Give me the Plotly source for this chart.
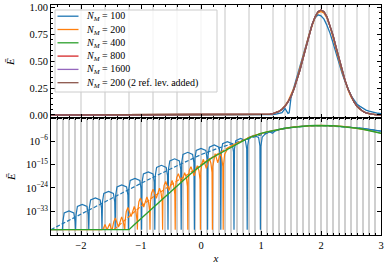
import plotly.graph_objects as go

# ---------------- data ----------------
# top panel (linear scale)
top_x = [-2.5, 1.00, 1.05, 1.10, 1.15, 1.20, 1.25, 1.30, 1.35, 1.40, 1.45, 1.47, 1.50, 1.55, 1.60,
         1.65, 1.70, 1.75, 1.80, 1.85, 1.90, 1.95, 2.00, 2.05, 2.10, 2.15, 2.20, 2.25,
         2.30, 2.35, 2.40, 2.45, 2.50, 2.55, 2.60, 2.65, 2.70, 2.75, 2.80, 2.85, 2.90,
         2.95, 3.00]
top_n100 = [0.0, 0.0, 0.0, 0.001, 0.002, 0.004, 0.008, 0.014, 0.022, 0.06, 0.015, 0.02, 0.16, 0.26, 0.36,
            0.46, 0.56, 0.66, 0.76, 0.84, 0.90, 0.93, 0.92, 0.89, 0.83, 0.76, 0.67, 0.57,
            0.48, 0.39, 0.31, 0.24, 0.18, 0.14, 0.10, 0.08, 0.06, 0.045, 0.035, 0.027, 0.02,
            0.016, 0.013]
top_n200 = [0.0, 0.001, 0.002, 0.004, 0.007, 0.012, 0.021, 0.035, 0.056, 0.086, 0.128, 0.15, 0.182, 0.252, 0.336,
            0.432, 0.536, 0.642, 0.745, 0.835, 0.905, 0.948, 0.962, 0.945, 0.898, 0.822, 0.726, 0.618,
            0.510, 0.405, 0.313, 0.233, 0.167, 0.116, 0.078, 0.051, 0.032, 0.019, 0.011, 0.006, 0.004,
            0.002, 0.001]
top_conv = [0.0, 0.001, 0.002, 0.004, 0.007, 0.012, 0.020, 0.033, 0.053, 0.081, 0.121, 0.14, 0.173, 0.241, 0.323,
            0.418, 0.524, 0.633, 0.740, 0.835, 0.910, 0.958, 0.975, 0.958, 0.910, 0.835, 0.740, 0.633,
            0.524, 0.418, 0.323, 0.241, 0.173, 0.121, 0.081, 0.053, 0.033, 0.020, 0.012, 0.007, 0.004,
            0.002, 0.001]

# bottom panel (log10 of E)
n100_x = [-2.5, -2.31,
          -2.302, -2.28, -2.20, -2.12, -2.098, -2.09,
          -2.082, -2.06, -1.98, -1.90, -1.878, -1.87,
          -1.862, -1.84, -1.76, -1.68, -1.658, -1.65,
          -1.642, -1.62, -1.54, -1.46, -1.438, -1.43,
          -1.422, -1.40, -1.32, -1.24, -1.218, -1.21,
          -1.202, -1.18, -1.10, -1.02, -0.998, -0.99,
          -0.982, -0.96, -0.88, -0.80, -0.778, -0.77,
          -0.762, -0.74, -0.66, -0.58, -0.558, -0.55,
          -0.542, -0.52, -0.44, -0.36, -0.338, -0.33,
          -0.322, -0.30, -0.22, -0.14, -0.118, -0.11,
          -0.102, -0.08, 0.00, 0.08, 0.102, 0.11,
          0.118, 0.14, 0.22, 0.30, 0.322, 0.33,
          0.338, 0.36, 0.44, 0.52, 0.542, 0.55,
          0.558, 0.58, 0.66, 0.74, 0.762, 0.77,
          0.778, 0.80, 0.88, 0.96, 0.982, 0.99,
          0.998, 1.02, 1.06, 1.10, 1.15, 1.19, 1.23, 1.30, 1.40, 1.50, 1.60, 1.70, 1.80,
          1.90, 2.00, 2.10, 2.20, 2.30, 2.40, 2.50, 2.60, 2.70, 2.80, 2.90, 3.00]
n100_lg = [-40, -40,
           -36.8, -33.6, -32.8, -33.6, -36.8, -40,
           -34.3, -31.1, -30.3, -31.1, -34.3, -40,
           -31.8, -28.6, -27.8, -28.6, -31.8, -40,
           -29.3, -26.1, -25.3, -26.1, -29.3, -40,
           -26.8, -23.6, -22.8, -23.6, -26.8, -40,
           -24.3, -21.1, -20.3, -21.1, -24.3, -40,
           -21.8, -18.6, -17.8, -18.6, -21.8, -40,
           -19.3, -16.1, -15.3, -16.1, -19.3, -40,
           -16.8, -13.6, -12.8, -13.6, -16.8, -40,
           -14.3, -11.1, -10.3, -11.1, -14.3, -40,
           -12.8, -9.6, -8.8, -9.6, -12.8, -40,
           -11.5, -8.3, -7.5, -8.3, -11.5, -40,
           -10.2, -7.0, -6.2, -7.0, -10.2, -40,
           -9.0, -5.8, -5.0, -5.8, -9.0, -40,
           -7.8, -4.6, -3.8, -4.6, -7.8, -40,
           -8.0, -4.5, -3.5, -2.9, -2.5, -3.0, -2.2, -1.5, -1.05, -0.72, -0.45, -0.25, -0.10,
           -0.04, -0.05, -0.10, -0.20, -0.32, -0.50, -0.70, -0.90, -1.15, -1.45, -1.80, -2.20]

n100_ref_x = [-2.5, -2.0, -1.5, -1.0, -0.5, -0.2, 0.0, 0.3, 0.6, 0.9, 1.2, 1.5, 1.8, 2.0, 2.2, 2.5, 2.8, 3.0]
n100_ref_lg = [-40, -34, -28, -22.2, -16.6, -13.2, -11.2, -8.6, -6.4, -4.2, -2.2, -0.8, -0.15, -0.05, -0.2, -0.7, -1.45, -2.2]

n200_x = [-2.5, -1.65,
          -1.625, -1.60, -1.565, -1.52, -1.50, -1.48,
          -1.455, -1.428, -1.375, -1.322, -1.295, -1.27,
          -1.264, -1.245, -1.218, -1.165, -1.112, -1.085, -1.066, -1.06,
          -1.054, -1.035, -1.008, -0.955, -0.902, -0.875, -0.856, -0.85,
          -0.844, -0.825, -0.798, -0.745, -0.692, -0.665, -0.646, -0.64,
          -0.634, -0.615, -0.588, -0.535, -0.482, -0.455, -0.436, -0.43,
          -0.424, -0.405, -0.378, -0.325, -0.272, -0.245, -0.226, -0.22,
          -0.214, -0.195, -0.168, -0.115, -0.062, -0.035, -0.016, -0.01,
          -0.004, 0.015, 0.04, 0.09, 0.14, 0.165, 0.184, 0.19,
          0.196, 0.215, 0.235, 0.28, 0.325, 0.345, 0.364, 0.37,
          0.376, 0.395, 0.45, 0.50, 0.60, 0.70, 0.80, 0.90, 1.00, 1.10, 1.20, 1.30, 1.40, 1.50,
          1.60, 1.70, 1.80, 1.90, 2.00, 2.10, 2.20, 2.30, 2.40, 2.50, 2.60, 2.70, 2.80, 2.90, 3.00]
n200_lg = [-40, -40,
           -39.5, -38, -40, -37.6, -39.5, -40,
           -37, -35.5, -39, -35.1, -37, -40,
           -36.5, -33, -31.5, -35, -31.1, -33, -36.5, -40,
           -32.8, -29.3, -27.8, -31.3, -27.4, -29.3, -32.8, -40,
           -29.5, -26, -24.5, -28, -24.1, -26, -29.5, -40,
           -26.5, -23, -21.5, -25, -21.1, -23, -26.5, -40,
           -23.5, -20, -18.5, -22, -18.1, -20, -23.5, -40,
           -20.8, -17.3, -15.8, -19.3, -15.4, -17.3, -20.8, -40,
           -18, -14.5, -13, -16.5, -12.6, -14.5, -18, -40,
           -15.8, -12.3, -10.8, -14.3, -10.4, -12.3, -15.8, -40,
           -15, -11, -8.6, -7.9, -6.7, -5.6, -4.6, -3.8, -3.05, -2.45, -1.92, -1.47, -1.08, -0.75,
           -0.48, -0.27, -0.12, -0.03, 0.0, -0.03, -0.12, -0.27, -0.48, -0.75, -1.08, -1.47, -1.92, -2.43, -3.0]

n200_ref_x = [-1.45, -1.2, -1.0, -0.8, -0.6, -0.4, -0.2, 0.0, 0.2, 0.4, 0.6, 0.8, 1.0]
n200_ref_lg = [-40, -35, -31, -27.5, -24.3, -21.3, -18.5, -15.0, -12.0, -9.2, -6.8, -4.6, -3.05]

n400_x = [-2.5, -1.2, -1.1, -1.0, -0.9, -0.8, -0.7, -0.6, -0.5, -0.4, -0.3, -0.2, -0.1, 0.0,
          0.1, 0.2, 0.3, 0.4, 0.5, 0.6, 0.7, 0.8, 0.9, 1.0, 1.1, 1.2, 1.3, 1.4, 1.5, 1.6,
          1.7, 1.8, 1.9, 2.0, 2.1, 2.2, 2.3, 2.4, 2.5, 2.6, 2.7, 2.8, 2.9, 3.0]
n400_lg = [-40, -40, -37.8, -35.7, -33.6, -31.5, -29.4, -27.3, -25.2, -23.1, -21.1, -19.1, -17.2, -15.4,
           -13.7, -12.2, -10.9, -9.8, -8.4, -7.1, -5.9, -4.8, -3.85, -3.05, -2.45, -1.92, -1.47, -1.08, -0.75, -0.48,
           -0.27, -0.12, -0.03, 0.0, -0.03, -0.12, -0.27, -0.48, -0.75, -1.08, -1.47, -1.92, -2.43, -3.0]

# mesh lines (top panel)
mesh_top = [-2.0, -1.6, -1.2, -0.8, -0.4, 0.0, 0.4, 0.8, 1.2, 1.4, 1.6, 1.7, 1.8, 1.9, 2.0,
            2.1, 2.2, 2.3, 2.4, 2.6, 2.8]

labels = ["100", "200", "400", "800", "1600", "200 (2 ref. lev. added)"]
colors = ["#1f77b4", "#ff7f0e", "#2ca02c", "#d62728", "#9467bd", "#8c564b"]
top_series = [top_n100, top_n200, top_conv, top_conv, top_conv, top_conv]

FONT = "Liberation Serif"

fig = go.Figure()
for lab, col, ys in zip(labels, colors, top_series):
    fig.add_trace(go.Scatter(x=top_x, y=ys, mode="lines", line=dict(color=col, width=1.3),
                             name="N_M = " + lab, showlegend=False, xaxis="x", yaxis="y"))


def pw(lst):
    return [10.0 ** v for v in lst]


fig.add_trace(go.Scatter(x=n100_x, y=pw(n100_lg), mode="lines", line=dict(color=colors[0], width=1.2),
                         showlegend=False, xaxis="x2", yaxis="y2"))
fig.add_trace(go.Scatter(x=n100_ref_x, y=pw(n100_ref_lg), mode="lines",
                         line=dict(color=colors[0], width=1.2, dash="4px,2px"),
                         showlegend=False, xaxis="x2", yaxis="y2"))
fig.add_trace(go.Scatter(x=n200_x, y=pw(n200_lg), mode="lines", line=dict(color=colors[1], width=1.2),
                         showlegend=False, xaxis="x2", yaxis="y2"))
fig.add_trace(go.Scatter(x=n200_ref_x, y=pw(n200_ref_lg), mode="lines",
                         line=dict(color=colors[1], width=1.2, dash="4px,2px"),
                         showlegend=False, xaxis="x2", yaxis="y2"))
fig.add_trace(go.Scatter(x=n400_x, y=pw(n400_lg), mode="lines", line=dict(color=colors[2], width=1.4),
                         showlegend=False, xaxis="x2", yaxis="y2"))

# ---------------- layout helpers ----------------
ML, MR, MT, MB = 51, 7, 5, 32
W, H = 388, 267
PW, PH = W - ML - MR, H - MT - MB


def px_x(X):
    return (X - ML) / PW


def px_y(Y):
    return (H - MB - Y) / PH


shapes = []
for m in mesh_top:
    shapes.append(dict(type="line", xref="x", yref="y domain", x0=m, x1=m, y0=0, y1=1,
                       line=dict(color="#cfcfcf", width=1.2), layer="below"))

# legend box (drawn manually)
shapes.append(dict(type="rect", xref="paper", yref="paper",
                   x0=px_x(55), x1=px_x(217), y0=px_y(92), y1=px_y(10),
                   line=dict(color="#cccccc", width=1), fillcolor="rgba(255,255,255,0.8)",
                   layer="above"))
annotations = []
for i, (lab, col) in enumerate(zip(labels, colors)):
    yc = 16.2 + 13.3 * i
    shapes.append(dict(type="line", xref="paper", yref="paper",
                       x0=px_x(57.5), x1=px_x(78.5), y0=px_y(yc), y1=px_y(yc),
                       line=dict(color=col, width=1.3), layer="above"))
    annotations.append(dict(xref="paper", yref="paper", x=px_x(84), y=px_y(yc + 0.5),
                            xanchor="left", yanchor="middle", showarrow=False,
                            text="<i>N<sub>M</sub></i> = " + lab,
                            font=dict(family=FONT, size=10, color="black")))

split = 1 - (118 - MT) / PH
axis_common = dict(showline=True, linecolor="black", linewidth=1, mirror="allticks",
                   ticks="inside", tickcolor="black", ticklen=4, zeroline=False, automargin=False,
                   tickfont=dict(family=FONT, size=10.5, color="black"))

fig.update_layout(
    width=W, height=H,
    margin=dict(l=ML, r=MR, t=MT, b=MB, autoexpand=False),
    paper_bgcolor="white", plot_bgcolor="white",
    font=dict(family=FONT, size=10, color="black"),
    shapes=shapes, annotations=annotations, showlegend=False,
    xaxis=dict(domain=[0, 1], anchor="y", range=[-2.5, 3], matches="x2", showticklabels=False,
               showgrid=False, dtick=1, tick0=0,
               minor=dict(ticks="inside", dtick=0.2, ticklen=2, tickcolor="black"),
               **axis_common),
    yaxis=dict(domain=[split, 1], anchor="x", range=[-0.028, 1.021], showgrid=False,
               tickvals=[0, 0.25, 0.5, 0.75, 1.0], ticktext=["0.00", "0.25", "0.50", "0.75", "1.00"],
               minor=dict(ticks="inside", dtick=0.05, ticklen=2, tickcolor="black"),
               title=dict(text="<i>Ē</i>", standoff=12, font=dict(family=FONT, size=11)),
               **axis_common),
    xaxis2=dict(domain=[0, 1], anchor="y2", range=[-2.5, 3], dtick=1, tick0=0,
                showgrid=True, gridcolor="#cfcfcf", gridwidth=1.2,
                minor=dict(ticks="inside", dtick=0.1, ticklen=2, tickcolor="black",
                           showgrid=True, gridcolor="#cfcfcf", gridwidth=1.2),
                title=dict(text="<i>x</i>", standoff=4, font=dict(family=FONT, size=11)),
                **axis_common),
    yaxis2=dict(domain=[0, split], anchor="x2", type="log", range=[-42.06, 2.87], showgrid=False,
                tickvals=[1e-33, 1e-24, 1e-15, 1e-6],
                ticktext=["10<sup>−33</sup>", "10<sup>−24</sup>", "10<sup>−15</sup>", "10<sup>−6</sup>"],
                title=dict(text="<i>Ē</i>", standoff=8, font=dict(family=FONT, size=11)),
                **axis_common),
)

fig.write_html("out.html", config={"displayModeBar": False, "staticPlot": True},
               post_script="document.body.style.margin='0';document.body.style.padding='0';")
